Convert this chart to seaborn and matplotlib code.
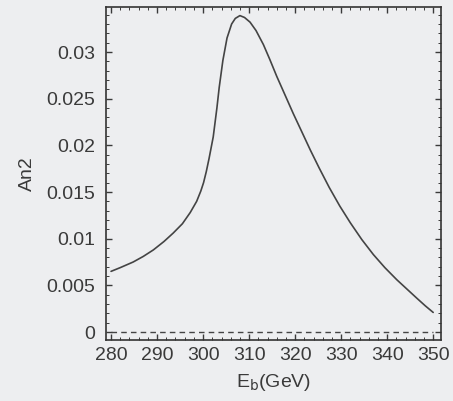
import matplotlib
matplotlib.use("Agg")
import matplotlib.pyplot as plt
import seaborn as sns
import pandas as pd
from matplotlib.ticker import MultipleLocator, FuncFormatter

# Values
eb = [280.0, 282.0, 284.8, 287.0, 289.2, 291.5, 293.5, 295.5, 297.2, 298.6,
      299.5, 300.1, 300.7, 301.3, 302.2, 303.0, 303.5, 304.3, 305.2, 306.2,
      307.0, 308.0, 309.0, 310.2, 311.5, 313.1, 314.5, 316.0, 317.8, 319.6,
      321.5, 323.3, 325.2, 327.4, 329.7, 332.0, 334.5, 337.0, 339.5, 342.1,
      344.3, 346.5, 348.3, 350.0]
an2 = [0.0065, 0.0069, 0.0075, 0.0081, 0.0088, 0.0097, 0.0106, 0.0116, 0.0128, 0.0140,
       0.0151, 0.0160, 0.0172, 0.0186, 0.0209, 0.0240, 0.0262, 0.0291, 0.0315, 0.0330,
       0.0336, 0.0339, 0.0337, 0.0332, 0.0323, 0.0308, 0.0292, 0.0274, 0.0254, 0.0234,
       0.0214, 0.0195, 0.0176, 0.0155, 0.0135, 0.0117, 0.0099, 0.0083, 0.0069, 0.0056,
       0.0046, 0.0036, 0.0028, 0.0021]
x_ticks = [280, 290, 300, 310, 320, 330, 340, 350]
y_ticks = [0, 0.005, 0.01, 0.015, 0.02, 0.025, 0.03]

df = pd.DataFrame({"Eb": eb, "An2": an2})

sns.set_style("ticks")
bg = "#edeef0"
ink = "#3a3a3a"
plt.rcParams["font.family"] = ["Liberation Sans", "DejaVu Sans"]

fig = plt.figure(figsize=(4.53, 4.01), dpi=100, facecolor=bg)
ax = fig.add_axes([0.234, 0.152, 0.7395, 0.8305])
ax.set_facecolor(bg)

sns.lineplot(data=df, x="Eb", y="An2", ax=ax, color="#444444", linewidth=1.2)
ax.plot([min(eb), max(eb)], [0, 0], linestyle=(0, (4, 3)), color="#444444", linewidth=1.0)

ax.set_xlim(278.9, 351.7)
ax.set_ylim(-0.00086, 0.03482)
ax.set_xticks(x_ticks)
ax.set_yticks(y_ticks)
ax.xaxis.set_minor_locator(MultipleLocator(2))
ax.yaxis.set_minor_locator(MultipleLocator(0.001))
ax.yaxis.set_major_formatter(FuncFormatter(lambda v, p: "%g" % round(v, 4)))

ax.tick_params(which="both", direction="in", top=True, right=True, colors=ink,
               labelcolor=ink, labelsize=14)
ax.tick_params(which="major", length=4, width=1.0)
ax.tick_params(which="minor", length=2, width=0.7)
ax.tick_params(axis="y", which="major", pad=8)
ax.tick_params(axis="x", which="major", pad=5)
for s in ax.spines.values():
    s.set_color("#333333")
    s.set_linewidth(1.2)

ax.set_xlabel(r"E$_\mathrm{b}$(GeV)", fontsize=14, color=ink, labelpad=6)
ax.set_ylabel("An2", fontsize=14, color=ink, labelpad=7)

fig.savefig("out.png", dpi=100, facecolor=bg)
